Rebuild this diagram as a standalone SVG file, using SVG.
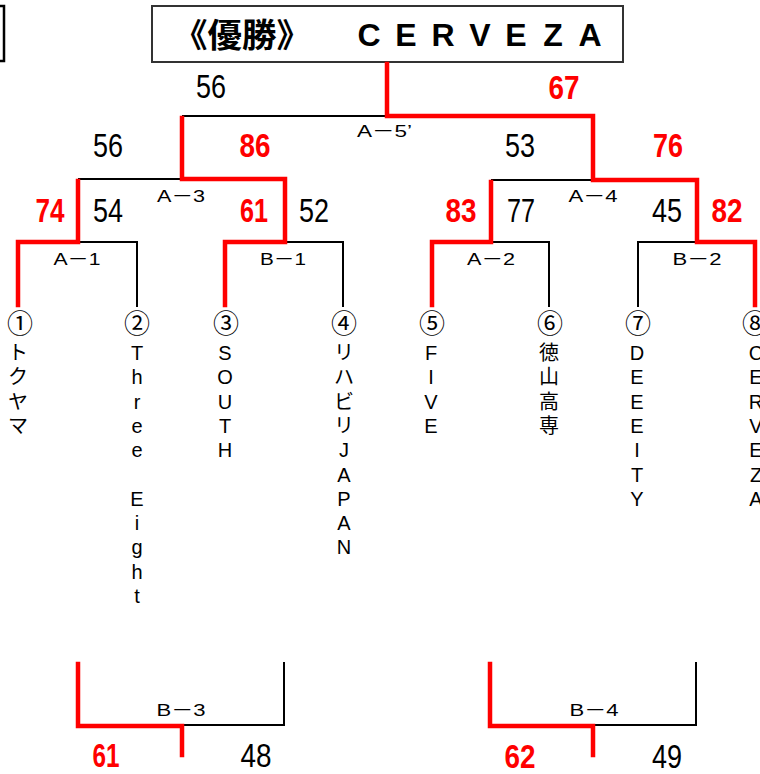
<svg xmlns="http://www.w3.org/2000/svg" width="760" height="774" viewBox="0 0 760 774">
<style>
  text { font-family: "Liberation Sans", "Noto Sans CJK JP", sans-serif; }
  .blk { fill: none; stroke: #000; stroke-width: 2; }
  .red { fill: none; stroke: #ff0000; stroke-width: 4.5; stroke-linejoin: miter; stroke-linecap: square; }
  .num { font-size: 33px; fill: #000; text-anchor: middle; }
  .rnum { font-size: 33px; fill: #ff0000; font-weight: bold; text-anchor: middle; }
  .lbl { font-size: 17px; fill: #000; text-anchor: middle; }
  .seed { font-size: 26px; fill: #000; text-anchor: middle; }
  .team { font-size: 20px; fill: #000; text-anchor: middle; }
  .ttl { font-size: 33px; font-weight: bold; fill: #000; }
</style>
<rect width="760" height="774" fill="#fff"/>
<g id="corner-bracket">
  <path d="M0,6 H4 V61 H0" fill="none" stroke="#000" stroke-width="2.5"/>
</g>
<g id="title">
  <rect x="152" y="6" width="471" height="56" fill="#fff" stroke="#333" stroke-width="2"/>
  <text class="ttl" x="173" y="47" textLength="138" lengthAdjust="spacingAndGlyphs">《優勝》</text>
  <text y="46" font-size="32" font-weight="bold" text-anchor="middle" x="369 406 443 480 516 553 590">CERVEZA</text>
</g>
<g id="connectors">
  <path class="blk" d="M182,116 H387"/>
  <path class="blk" d="M78,179 H182"/>
  <path class="blk" d="M78,242 H137 V307"/>
  <path class="blk" d="M285,242 H343 V307"/>
  <path class="blk" d="M491,180 H593"/>
  <path class="blk" d="M491,242 H549 V307"/>
  <path class="blk" d="M697,242 H638 V307"/>
  <path class="blk" d="M182,725 H284 V662"/>
  <path class="blk" d="M593,725 H696 V662"/>
  <path class="red" d="M387,64 V116 H593 V180 H697 V242 H755 V305"/>
  <path class="red" d="M182,118 V179 H285 V242 H225 V305"/>
  <path class="red" d="M78,181 V242 H18 V305"/>
  <path class="red" d="M491,182 V242 H432 V305"/>
  <path class="red" d="M78,664 V726 H182 V755"/>
  <path class="red" d="M490,664 V726 H593 V755"/>
</g>
<g id="scores">
  <text class="num" x="211" y="98" textLength="30" lengthAdjust="spacingAndGlyphs">56</text>
  <text class="rnum" x="564" y="99" textLength="31" lengthAdjust="spacingAndGlyphs">67</text>
  <text class="num" x="108" y="157" textLength="30" lengthAdjust="spacingAndGlyphs">56</text>
  <text class="rnum" x="255" y="157" textLength="31" lengthAdjust="spacingAndGlyphs">86</text>
  <text class="num" x="520" y="157" textLength="30" lengthAdjust="spacingAndGlyphs">53</text>
  <text class="rnum" x="668" y="157" textLength="30" lengthAdjust="spacingAndGlyphs">76</text>
  <text class="rnum" x="50" y="222" textLength="29" lengthAdjust="spacingAndGlyphs">74</text>
  <text class="num" x="108" y="222" textLength="30" lengthAdjust="spacingAndGlyphs">54</text>
  <text class="rnum" x="254" y="222" textLength="28" lengthAdjust="spacingAndGlyphs">61</text>
  <text class="num" x="314" y="222" textLength="30" lengthAdjust="spacingAndGlyphs">52</text>
  <text class="rnum" x="461" y="222" textLength="31" lengthAdjust="spacingAndGlyphs">83</text>
  <text class="num" x="521" y="222" textLength="28" lengthAdjust="spacingAndGlyphs">77</text>
  <text class="num" x="667" y="222" textLength="30" lengthAdjust="spacingAndGlyphs">45</text>
  <text class="rnum" x="727" y="222" textLength="31" lengthAdjust="spacingAndGlyphs">82</text>
  <text class="rnum" x="106" y="767" textLength="27" lengthAdjust="spacingAndGlyphs">61</text>
  <text class="num" x="256" y="767" textLength="31" lengthAdjust="spacingAndGlyphs">48</text>
  <text class="rnum" x="520" y="768" textLength="31" lengthAdjust="spacingAndGlyphs">62</text>
  <text class="num" x="667" y="768" textLength="30" lengthAdjust="spacingAndGlyphs">49</text>
</g>
<g id="match-labels">
  <text class="lbl" x="357" y="137" style="text-anchor:start" textLength="55" lengthAdjust="spacingAndGlyphs">A－5’</text>
  <text class="lbl" x="181" y="202" textLength="48" lengthAdjust="spacingAndGlyphs">A－3</text>
  <text class="lbl" x="593" y="202" textLength="49" lengthAdjust="spacingAndGlyphs">A－4</text>
  <text class="lbl" x="77" y="265" textLength="47" lengthAdjust="spacingAndGlyphs">A－1</text>
  <text class="lbl" x="283" y="265" textLength="46" lengthAdjust="spacingAndGlyphs">B－1</text>
  <text class="lbl" x="491" y="265" textLength="48" lengthAdjust="spacingAndGlyphs">A－2</text>
  <text class="lbl" x="697" y="265" textLength="49" lengthAdjust="spacingAndGlyphs">B－2</text>
  <text class="lbl" x="181" y="716" textLength="49" lengthAdjust="spacingAndGlyphs">B－3</text>
  <text class="lbl" x="594" y="716" textLength="49" lengthAdjust="spacingAndGlyphs">B－4</text>
</g>
<g id="team-1">
  <text class="seed" x="20" y="333">①</text>
  <text class="team"><tspan x="18" y="360">ト</tspan><tspan x="18" dy="24.3">ク</tspan><tspan x="18" dy="24.3">ヤ</tspan><tspan x="18" dy="24.3">マ</tspan></text>
</g>
<g id="team-2">
  <text class="seed" x="137" y="333">②</text>
  <text class="team"><tspan x="137" y="360">T</tspan><tspan x="137" dy="24.3">h</tspan><tspan x="137" dy="24.3">r</tspan><tspan x="137" dy="24.3">e</tspan><tspan x="137" dy="24.3">e</tspan><tspan x="137" dy="48.6">E</tspan><tspan x="137" dy="24.3">i</tspan><tspan x="137" dy="24.3">g</tspan><tspan x="137" dy="24.3">h</tspan><tspan x="137" dy="24.3">t</tspan></text>
</g>
<g id="team-3">
  <text class="seed" x="226" y="333">③</text>
  <text class="team"><tspan x="225" y="360">S</tspan><tspan x="225" dy="24.3">O</tspan><tspan x="225" dy="24.3">U</tspan><tspan x="225" dy="24.3">T</tspan><tspan x="225" dy="24.3">H</tspan></text>
</g>
<g id="team-4">
  <text class="seed" x="344" y="333">④</text>
  <text class="team"><tspan x="344" y="360">リ</tspan><tspan x="344" dy="24.3">ハ</tspan><tspan x="344" dy="24.3">ビ</tspan><tspan x="344" dy="24.3">リ</tspan><tspan x="344" dy="24.3">J</tspan><tspan x="344" dy="24.3">A</tspan><tspan x="344" dy="24.3">P</tspan><tspan x="344" dy="24.3">A</tspan><tspan x="344" dy="24.3">N</tspan></text>
</g>
<g id="team-5">
  <text class="seed" x="432" y="333">⑤</text>
  <text class="team"><tspan x="431" y="360">F</tspan><tspan x="431" dy="24.3">I</tspan><tspan x="431" dy="24.3">V</tspan><tspan x="431" dy="24.3">E</tspan></text>
</g>
<g id="team-6">
  <text class="seed" x="550" y="333">⑥</text>
  <text class="team"><tspan x="549" y="360">徳</tspan><tspan x="549" dy="24.3">山</tspan><tspan x="549" dy="24.3">高</tspan><tspan x="549" dy="24.3">専</tspan></text>
</g>
<g id="team-7">
  <text class="seed" x="638" y="333">⑦</text>
  <text class="team"><tspan x="637" y="360">D</tspan><tspan x="637" dy="24.3">E</tspan><tspan x="637" dy="24.3">E</tspan><tspan x="637" dy="24.3">E</tspan><tspan x="637" dy="24.3">I</tspan><tspan x="637" dy="24.3">T</tspan><tspan x="637" dy="24.3">Y</tspan></text>
</g>
<g id="team-8">
  <text class="seed" x="755" y="333">⑧</text>
  <text class="team"><tspan x="756" y="360">C</tspan><tspan x="756" dy="24.3">E</tspan><tspan x="756" dy="24.3">R</tspan><tspan x="756" dy="24.3">V</tspan><tspan x="756" dy="24.3">E</tspan><tspan x="756" dy="24.3">Z</tspan><tspan x="756" dy="24.3">A</tspan></text>
</g>
</svg>
